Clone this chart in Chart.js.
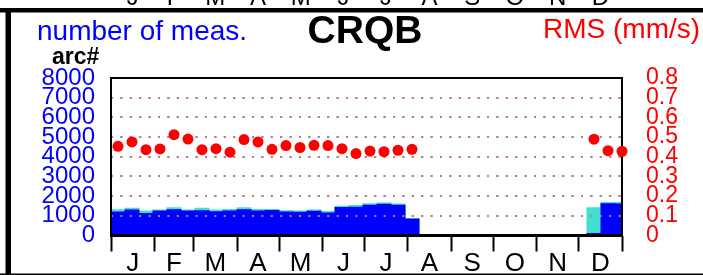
<!DOCTYPE html>
<html>
<head>
<meta charset="utf-8">
<script src="https://cdn.jsdelivr.net/npm/chart.js@4.4.0/dist/chart.umd.min.js"></script>
<style>
  body { margin: 0; background: #fff; }
  #wrap { width: 703px; height: 275px; }
</style>
</head>
<body>
<div id="wrap"><canvas id="rmsChart" width="703" height="275"></canvas></div>
<script>
// 10-day bins, day of year where each bin starts
const binStarts = [0, 10, 20, 30, 40, 50, 60, 70, 80, 90, 100, 110, 120, 130, 140, 150, 160, 170, 180,
  190, 200, 210, 220, 230, 240, 250, 260, 270, 280, 290, 300, 310, 320, 330, 340, 350, 360];

// number of measurements (turquoise = all, blue = arc)
const totalMeas = [1310, 1390, 1240, 1290, 1410, 1300, 1390, 1290, 1320, 1410, 1320, 1320, 1260, 1240,
  1300, 1220, 1490, 1530, 1610, 1650, 1600, 840,
  null, null, null, null, null, null, null, null, null, null, null, null,
  1410, 1680, 1680];
const arcMeas = [1200, 1290, 1120, 1240, 1310, 1240, 1260, 1210, 1250, 1310, 1250, 1270, 1200, 1180,
  1230, 1140, 1420, 1440, 1540, 1590, 1540, 840,
  null, null, null, null, null, null, null, null, null, null, null, null,
  100, 1610, 1600];

// RMS in mm/s
const rmsValues = [0.453, 0.475, 0.436, 0.44, 0.512, 0.49, 0.436, 0.441, 0.423, 0.487, 0.475, 0.438,
  0.457, 0.447, 0.458, 0.457, 0.441, 0.416, 0.429, 0.426, 0.433, 0.438,
  null, null, null, null, null, null, null, null, null, null, null, null,
  0.489, 0.431, 0.428];

const monthLabels = ["J", "F", "M", "A", "M", "J", "J", "A", "S", "O", "N", "D"];
const monthStarts = [0, 31, 59, 90, 120, 151, 181, 212, 243, 273, 304, 334, 365];
const leftTickLabels = ["0", "1000", "2000", "3000", "4000", "5000", "6000", "7000", "8000"];
const rightTickLabels = ["0", "0.1", "0.2", "0.3", "0.4", "0.5", "0.6", "0.7", "0.8"];

const FONT = "'Liberation Sans', Arial, sans-serif";
const gridColor = "rgb(180,130,130)";

// month boundaries (tick marks) and month middles (labels), interleaved
const xTicks = [];
for (let m = 0; m < 12; m++) {
  xTicks.push(monthStarts[m]);
  xTicks.push((monthStarts[m] + monthStarts[m + 1]) / 2);
}
xTicks.push(365);

const pts = (vals) => binStarts.map((d, i) => ({ x: d + 5, y: vals[i] }));

const panelDecor = {
  id: "panelDecor",
  afterDatasetDraw(chart, args) {
    if (args.index !== 1) return;
    // dotted grid goes over the bars, and the frame too
    chart.scales.y.drawGrid(chart.chartArea);
    const ctx = chart.ctx;
    const a = chart.chartArea;
    ctx.save();
    ctx.strokeStyle = "#000";
    ctx.lineWidth = 2;
    ctx.strokeRect(a.left, a.top, a.right - a.left, a.bottom - a.top);
    ctx.lineWidth = 3;
    ctx.beginPath();
    ctx.moveTo(a.left - 1, a.bottom);
    ctx.lineTo(a.right + 1, a.bottom);
    ctx.stroke();
    ctx.restore();
  },
  afterDraw(chart) {
    const ctx = chart.ctx;
    const x = chart.scales.x;
    ctx.save();
    ctx.fillStyle = "#fff";
    ctx.fillRect(0, 273.5, 703, 2);
    ctx.fillStyle = "#000";
    ctx.fillRect(0, 8, 703, 4.5);
    ctx.fillRect(5.5, 8, 5.5, 267);
    ctx.fillRect(0, 273.5, 703, 1.5);

    // month letters of the panel above, cut off
    ctx.font = "24px " + FONT;
    ctx.textAlign = "center";
    ctx.textBaseline = "alphabetic";
    for (let m = 0; m < 12; m++) {
      ctx.fillText(monthLabels[m], x.getPixelForValue((monthStarts[m] + monthStarts[m + 1]) / 2), 5);
    }

    ctx.textAlign = "left";
    ctx.font = "28px " + FONT;
    ctx.fillStyle = "#0000ff";
    ctx.fillText("number of meas.", 37, 40);
    ctx.fillStyle = "#ff0000";
    ctx.fillText("RMS (mm/s)", 543, 38);
    ctx.fillStyle = "#000";
    ctx.font = "bold 23px " + FONT;
    ctx.fillText("arc#", 52, 64);
    ctx.textAlign = "center";
    ctx.font = "bold 39px " + FONT;
    ctx.fillText("CRQB", 365, 43);
    ctx.restore();
  }
};

const ctx = document.getElementById("rmsChart").getContext("2d");
const rmsChart = new Chart(ctx, {
  type: "bar",
  data: {
    datasets: [
      {
        label: "all",
        data: pts(totalMeas),
        backgroundColor: "#40e0d0",
        yAxisID: "y",
        order: 2,
        grouped: false,
        barPercentage: 1,
        categoryPercentage: 1,
        borderWidth: 0,
        inflateAmount: 0.5,
      },
      {
        label: "arc",
        data: pts(arcMeas),
        backgroundColor: "#0000ff",
        yAxisID: "y",
        order: 1,
        grouped: false,
        barPercentage: 1,
        categoryPercentage: 1,
        borderWidth: 0,
        inflateAmount: 0.5,
      },
      {
        type: "line",
        label: "RMS",
        data: pts(rmsValues),
        yAxisID: "y2",
        order: 0,
        showLine: false,
        pointRadius: 5.5,
        pointBackgroundColor: "#ff0000",
        pointBorderWidth: 0,
        clip: false,
      },
    ],
  },
  options: {
    responsive: false,
    animation: false,
    layout: { padding: { top: 78, left: 0, right: 0, bottom: 0 } },
    plugins: { legend: { display: false }, tooltip: { enabled: false } },
    scales: {
      x: {
        type: "linear",
        min: 0,
        max: 365,
        offset: false,
        afterBuildTicks: (s) => { s.ticks = xTicks.map((v) => ({ value: v })); },
        afterFit: (s) => { s.height = 39.5; },
        border: { display: false },
        grid: {
          offset: false,
          drawOnChartArea: false,
          drawTicks: true,
          tickLength: 16,
          tickWidth: 2,
          tickColor: (c) => (c.index % 2 ? "rgba(0,0,0,0)" : "#000"),
        },
        ticks: {
          autoSkip: false,
          maxRotation: 0,
          minRotation: 0,
          padding: -3,
          color: "#000",
          font: { family: FONT, size: 26 },
          callback: (v, i) => (i % 2 ? monthLabels[(i - 1) / 2] : ""),
        },
      },
      y: {
        position: "left",
        min: 0,
        max: 8000,
        afterFit: (s) => { s.width = 111; },
        border: { display: false, dash: [2, 7.4] },
        grid: {
          drawTicks: false,
          lineWidth: 2,
          color: (c) => (c.tick && (c.tick.value === 0 || c.tick.value === 8000) ? "rgba(0,0,0,0)" : gridColor),
        },
        ticks: {
          stepSize: 1000,
          autoSkip: false,
          padding: 16,
          color: "#0000ff",
          font: { family: FONT, size: 24, lineHeight: 1 },
          callback: (v, i) => leftTickLabels[i],
        },
      },
      y2: {
        position: "right",
        min: 0,
        max: 0.8,
        afterFit: (s) => { s.width = 81; },
        border: { display: false },
        grid: { display: false },
        ticks: {
          stepSize: 0.1,
          autoSkip: false,
          padding: 16,
          color: "#ff0000",
          font: { family: FONT, size: 23, lineHeight: 1 },
          callback: (v, i) => rightTickLabels[i],
        },
      },
    },
  },
  plugins: [panelDecor],
});
</script>
</body>
</html>
